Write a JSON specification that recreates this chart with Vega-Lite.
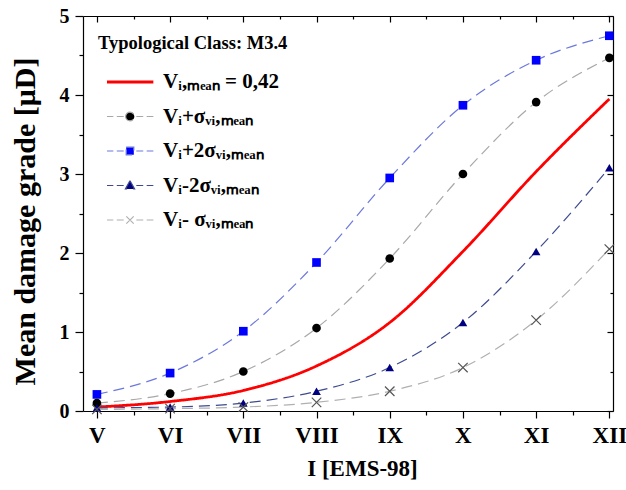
{
  "$schema": "https://vega.github.io/schema/vega-lite/v6.json",
  "width": 530,
  "height": 395,
  "autosize": "none",
  "padding": {"left": 83, "top": 16, "right": 13, "bottom": 79},
  "background": "#ffffff",
  "config": {
    "font": "Liberation Serif",
    "view": {"stroke": null},
    "axis": {"grid": false, "domainColor": "#000", "tickColor": "#000", "domainWidth": 1.2, "tickWidth": 1.2,
      "labelFont": "Liberation Serif", "labelFontSize": 20, "labelFontWeight": "bold", "labelColor": "#000",
      "titleFont": "Liberation Serif", "titleFontSize": 23, "titleFontWeight": "bold", "titleColor": "#000"}
  },
  "data": {"values": [
    {"series": "plus2", "I": 5, "mu": 0.21}, {"series": "plus2", "I": 6, "mu": 0.48}, {"series": "plus2", "I": 7, "mu": 1.01}, {"series": "plus2", "I": 8, "mu": 1.88},
    {"series": "plus2", "I": 9, "mu": 2.95}, {"series": "plus2", "I": 10, "mu": 3.87}, {"series": "plus2", "I": 11, "mu": 4.44}, {"series": "plus2", "I": 12, "mu": 4.75},
    {"series": "plus1", "I": 5, "mu": 0.10}, {"series": "plus1", "I": 6, "mu": 0.22}, {"series": "plus1", "I": 7, "mu": 0.50}, {"series": "plus1", "I": 8, "mu": 1.05},
    {"series": "plus1", "I": 9, "mu": 1.93}, {"series": "plus1", "I": 10, "mu": 3.00}, {"series": "plus1", "I": 11, "mu": 3.91}, {"series": "plus1", "I": 12, "mu": 4.47},
    {"series": "mean", "I": 5, "mu": 0.05}, {"series": "mean", "I": 6, "mu": 0.12}, {"series": "mean", "I": 7, "mu": 0.26}, {"series": "mean", "I": 8, "mu": 0.57},
    {"series": "mean", "I": 9, "mu": 1.12}, {"series": "mean", "I": 10, "mu": 2.02}, {"series": "mean", "I": 11, "mu": 3.03}, {"series": "mean", "I": 12, "mu": 3.95},
    {"series": "minus2", "I": 5, "mu": 0.04}, {"series": "minus2", "I": 6, "mu": 0.05}, {"series": "minus2", "I": 7, "mu": 0.10}, {"series": "minus2", "I": 8, "mu": 0.25},
    {"series": "minus2", "I": 9, "mu": 0.55}, {"series": "minus2", "I": 10, "mu": 1.12}, {"series": "minus2", "I": 11, "mu": 2.02}, {"series": "minus2", "I": 12, "mu": 3.08},
    {"series": "minus1", "I": 5, "mu": 0.02}, {"series": "minus1", "I": 6, "mu": 0.03}, {"series": "minus1", "I": 7, "mu": 0.05}, {"series": "minus1", "I": 8, "mu": 0.11},
    {"series": "minus1", "I": 9, "mu": 0.25}, {"series": "minus1", "I": 10, "mu": 0.55}, {"series": "minus1", "I": 11, "mu": 1.15}, {"series": "minus1", "I": 12, "mu": 2.05}
  ]},
  "resolve": {"axis": {"x": "independent", "y": "independent"}},
  "layer": [
    {
      "mark": {"type": "line", "interpolate": "monotone"},
      "encoding": {
        "x": {"field": "I", "type": "quantitative", "scale": {"domain": [4.81, 12.05], "nice": false, "zero": false},
          "axis": {"orient": "bottom", "title": "I [EMS-98]", "values": [5, 5.5, 6, 6.5, 7, 7.5, 8, 8.5, 9, 9.5, 10, 10.5, 11, 11.5, 12],
            "labelExpr": "datum.value % 1 === 0 ? ['V','VI','VII','VIII','IX','X','XI','XII'][datum.value - 5] : ''",
            "tickSize": {"condition": {"test": "datum.value % 1 === 0", "value": 7}, "value": 4},
            "labelFontSize": 23, "labelPadding": 6, "titlePadding": 10, "titleX": 279, "labelFlush": false}},
        "y": {"field": "mu", "type": "quantitative", "scale": {"domain": [0, 5], "nice": false},
          "axis": {"orient": "left", "title": "Mean damage grade [μD]", "values": [0, 0.5, 1, 1.5, 2, 2.5, 3, 3.5, 4, 4.5, 5],
            "labelExpr": "datum.value % 1 === 0 ? format(datum.value, 'd') : ''",
            "tickSize": {"condition": {"test": "datum.value % 1 === 0", "value": 8}, "value": 4},
            "labelPadding": 6, "titleFontSize": 30, "titlePadding": 19, "titleY": 205, "labelFlush": false}},
        "stroke": {"field": "series", "type": "nominal",
          "scale": {"domain": ["mean", "plus1", "plus2", "minus2", "minus1"], "range": ["#ff0000", "#a8a8a8", "#6b78dc", "#3d4a8f", "#b0b0b0"]},
          "legend": {
            "title": "Typological Class: M3.4",
            "orient": "none", "legendX": 15, "legendY": 18, "padding": 0,
            "titleFont": "Liberation Serif", "titleFontSize": 18.5, "titleFontWeight": "bold", "titleColor": "#000", "titlePadding": 19, "titleLimit": 500,
            "labelFont": "Liberation Serif", "labelFontSize": 21, "labelFontWeight": "bold", "labelColor": "#000", "labelLimit": 500,
            "labelOffset": 44, "symbolSize": 529, "rowPadding": 12.5, "symbolStrokeWidth": 1.3,
            "labelExpr": "datum.value === 'mean' ? 'Vᵢ,ₘₑₐₙ = 0,42' : datum.value === 'plus1' ? 'Vᵢ+σᵥᵢ,ₘₑₐₙ' : datum.value === 'plus2' ? 'Vᵢ+2σᵥᵢ,ₘₑₐₙ' : datum.value === 'minus2' ? 'Vᵢ-2σᵥᵢ,ₘₑₐₙ' : 'Vᵢ- σᵥᵢ,ₘₑₐₙ'",
            "encode": {"symbols": {"update": {
              "shape": {"signal": "datum.value === 'mean' ? 'M-0.13,0H3.9' : datum.value === 'plus1' ? 'M-0.13,0H0.42M0.72,0H1.32M2.42,0H3.02M3.32,0H3.9M1.49,0A0.38,0.38 0 1,1 2.25,0A0.38,0.38 0 1,1 1.49,0Z' : datum.value === 'plus2' ? 'M-0.13,0H0.42M0.72,0H1.32M2.42,0H3.02M3.32,0H3.9M1.54,-0.33H2.2V0.33H1.54Z' : datum.value === 'minus2' ? 'M-0.13,0H0.42M0.72,0H1.32M2.42,0H3.02M3.32,0H3.9M1.87,-0.42L2.27,0.3H1.47Z' : 'M-0.13,0H0.42M0.72,0H1.32M2.42,0H3.02M3.32,0H3.9M1.55,-0.32L2.19,0.32M1.55,0.32L2.19,-0.32'"},
              "fill": {"signal": "datum.value === 'plus1' ? '#000000' : datum.value === 'plus2' ? '#0000ff' : datum.value === 'minus2' ? '#000080' : 'transparent'"},
              "fillOpacity": {"value": 1},
              "opacity": {"value": 1},
              "strokeDash": {"value": []},
              "strokeWidth": {"signal": "datum.value === 'mean' ? 2.8 : 1.2"}
            }}}
          }},
        "strokeDash": {"field": "series", "type": "nominal",
          "scale": {"domain": ["mean", "plus1", "plus2", "minus2", "minus1"], "range": [[1, 0], [11, 6], [11, 6], [11, 6], [11, 6]]},
          "legend": null},
        "strokeWidth": {"condition": {"test": "datum.series === 'mean'", "value": 2.8}, "value": 1.2}
      }
    },
    {
      "transform": [{"filter": "datum.series === 'plus1' || datum.series === 'plus2' || datum.series === 'minus2'"}],
      "mark": {"type": "point", "filled": true, "size": 75, "opacity": 1},
      "encoding": {
        "x": {"field": "I", "type": "quantitative", "axis": null},
        "y": {"field": "mu", "type": "quantitative", "axis": null},
        "shape": {"field": "series", "type": "nominal", "scale": {"domain": ["plus1", "plus2", "minus2"], "range": ["circle", "square", "triangle-up"]}, "legend": null},
        "fill": {"field": "series", "type": "nominal", "scale": {"domain": ["plus1", "plus2", "minus2"], "range": ["#000000", "#0000ff", "#000080"]}, "legend": null}
      }
    },
    {
      "transform": [{"filter": "datum.series === 'minus1'"}],
      "mark": {"type": "point", "shape": "M-1,-1L1,1M-1,1L1,-1", "filled": false, "size": 90, "stroke": "#555555", "strokeWidth": 1.2, "opacity": 1},
      "encoding": {
        "x": {"field": "I", "type": "quantitative",
          "axis": {"orient": "top", "title": null, "labels": false, "values": [5, 5.5, 6, 6.5, 7, 7.5, 8, 8.5, 9, 9.5, 10, 10.5, 11, 11.5, 12],
            "tickSize": {"condition": {"test": "datum.value % 1 === 0", "value": -6}, "value": -3}}},
        "y": {"field": "mu", "type": "quantitative",
          "axis": {"orient": "right", "title": null, "labels": false, "values": [0, 0.5, 1, 1.5, 2, 2.5, 3, 3.5, 4, 4.5, 5],
            "tickSize": {"condition": {"test": "datum.value % 1 === 0", "value": -6}, "value": -3}}}
      }
    }
  ]
}
